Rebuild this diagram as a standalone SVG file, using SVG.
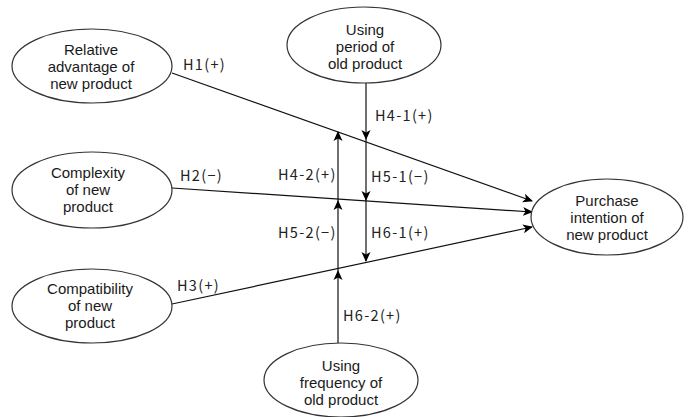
<svg xmlns="http://www.w3.org/2000/svg" width="695" height="417" viewBox="0 0 695 417">
<style>
.node ellipse{fill:#fff;stroke:#333;stroke-width:1.2}
.node text{font-family:"Liberation Sans","Noto Sans",sans-serif;font-size:15px;fill:#1a1a1a;text-anchor:middle}
.lbl{font-family:"Noto Sans CJK KR","Noto Sans",sans-serif;font-size:14.5px;letter-spacing:1.3px;fill:#222}
.conn line{stroke:#111;stroke-width:1.2;marker-end:url(#ah)}
</style>
<defs>
<marker id="ah" markerUnits="userSpaceOnUse" markerWidth="10" markerHeight="10" viewBox="0 0 10 10" refX="9" refY="5" orient="auto">
<path d="M0,0.5 L10,5 L0,9.5 L2.5,5 z" fill="#000"/>
</marker>
</defs>
<rect width="695" height="417" fill="#fff"/>
<g class="conn" id="connectors">
<line x1="172" y1="73" x2="532" y2="201"/>
<line x1="172" y1="188" x2="532" y2="212"/>
<line x1="172" y1="304" x2="532" y2="227"/>
<line x1="366" y1="83" x2="366" y2="139"/>
<line x1="366" y1="139" x2="366" y2="200"/>
<line x1="366" y1="200" x2="366" y2="261"/>
<line x1="338" y1="343" x2="338" y2="271"/>
<line x1="338" y1="271" x2="338" y2="201"/>
<line x1="338" y1="201" x2="338" y2="132"/>
</g>
<g id="labels">
<text class="lbl" x="183" y="70">H1(+)</text>
<text class="lbl" x="180" y="181">H2(−)</text>
<text class="lbl" x="177" y="291">H3(+)</text>
<text class="lbl" x="375" y="121">H4-1(+)</text>
<text class="lbl" x="278" y="180">H4-2(+)</text>
<text class="lbl" x="371" y="182">H5-1(−)</text>
<text class="lbl" x="278" y="238">H5-2(−)</text>
<text class="lbl" x="371" y="238">H6-1(+)</text>
<text class="lbl" x="343" y="321">H6-2(+)</text>
</g>
<g class="node" id="relative">
<ellipse cx="92" cy="66" rx="80" ry="37"/>
<text x="91" y="55">Relative</text>
<text x="91" y="72">advantage of</text>
<text x="91" y="89">new product</text>
</g>
<g class="node" id="complexity">
<ellipse cx="92" cy="190" rx="80" ry="38"/>
<text x="88" y="178">Complexity</text>
<text x="88" y="195">of new</text>
<text x="88" y="212">product</text>
</g>
<g class="node" id="compatibility">
<ellipse cx="92" cy="306" rx="80" ry="37"/>
<text x="90" y="294">Compatibility</text>
<text x="90" y="311">of new</text>
<text x="90" y="328">product</text>
</g>
<g class="node" id="period">
<ellipse cx="364" cy="45" rx="77" ry="38"/>
<text x="365" y="35">Using</text>
<text x="365" y="52">period of</text>
<text x="365" y="69">old product</text>
</g>
<g class="node" id="frequency">
<ellipse cx="341" cy="380" rx="77" ry="37"/>
<text x="341" y="371">Using</text>
<text x="341" y="388">frequency of</text>
<text x="341" y="405">old product</text>
</g>
<g class="node" id="purchase">
<ellipse cx="607" cy="217" rx="76" ry="38"/>
<text x="607" y="206">Purchase</text>
<text x="607" y="223">intention of</text>
<text x="607" y="240">new product</text>
</g>
</svg>
